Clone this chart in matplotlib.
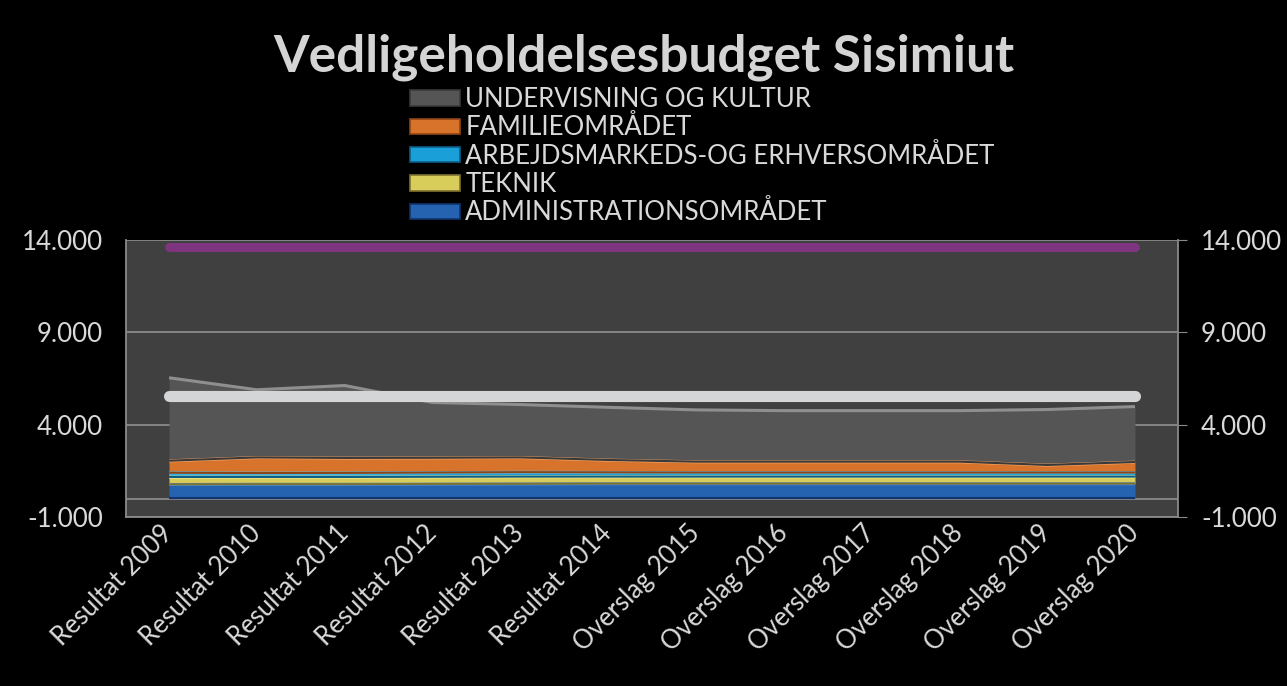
import numpy as np
import matplotlib
matplotlib.use("Agg")
import matplotlib.pyplot as plt
from matplotlib.patches import Patch

plt.rcParams['font.family'] = ['Lato', 'DejaVu Sans']

# categories and series
categories = ["Resultat 2009", "Resultat 2010", "Resultat 2011", "Resultat 2012",
              "Resultat 2013", "Resultat 2014", "Overslag 2015", "Overslag 2016",
              "Overslag 2017", "Overslag 2018", "Overslag 2019", "Overslag 2020"]

administration = [760, 770, 770, 780, 790, 800, 800, 800, 800, 800, 800, 800]
teknik = [400, 390, 390, 390, 390, 380, 380, 380, 380, 380, 380, 380]
arbejdsmarked = [230, 210, 220, 230, 240, 230, 220, 220, 220, 220, 220, 220]
familie = [650, 850, 810, 800, 800, 670, 590, 590, 590, 590, 410, 570]
undervisning = [4500, 3670, 3930, 3000, 2870, 2860, 2810, 2770, 2770, 2770, 3010, 3010]

budget_total = [13640] * 12
budget_line = [5530] * 12

series = [
    ("ADMINISTRATIONSOMRÅDET", administration, "#2563b0", "#4a8ee0", "#103470"),
    ("TEKNIK", teknik, "#d8cc5a", "#f6ee90", "#7d7330"),
    ("ARBEJDSMARKEDS-OG ERHVERSOMRÅDET", arbejdsmarked, "#1a9fd8", "#4cc6f5", "#0d5f88"),
    ("FAMILIEOMRÅDET", familie, "#d8732c", "#f7a565", "#8f4516"),
    ("UNDERVISNING OG KULTUR", undervisning, "#555555", "#8f8f8f", "#3a3a3a"),
]

text_col = "#d9d9d9"
grid_col = "#8a8a8a"

fig = plt.figure(figsize=(12.87, 6.86), dpi=100, facecolor="black")
ax = fig.add_axes([126 / 1287, 1 - 517 / 686, (1178 - 126) / 1287, (517 - 240) / 686])
ax.set_facecolor("#404040")

x = np.arange(len(categories))
base = np.zeros(len(categories))
for name, vals, c, hi, lo in series:
    top = base + np.array(vals)
    ax.fill_between(x, base, top, color=c, lw=0, zorder=3)
    ax.plot(x, top, color=hi, lw=2.2, zorder=4, solid_capstyle="butt")
    ax.plot(x, base + 8, color=lo, lw=1.5, zorder=4, solid_capstyle="butt")
    base = top

ax.plot(x, budget_line, color="#d4d5d7", lw=8, solid_capstyle="round", zorder=6)
ax.plot(x, budget_total, color="#7e347f", lw=6.5, solid_capstyle="round", zorder=6)

ax.set_xlim(-0.49, 11.49)
ax.set_ylim(-1000, 14000)
yt = [-1000, 4000, 9000, 14000]
ax.set_yticks(yt)
ax.set_yticklabels([f"{v:,}".replace(",", ".") for v in yt])
ax.grid(axis="y", color=grid_col, lw=1.3, zorder=1)
ax.axhline(0, color=grid_col, lw=1.3, zorder=1)
for s in ax.spines.values():
    s.set_color(grid_col)
    s.set_linewidth(1.3)
ax.spines["top"].set_visible(False)

ax.set_xticks(x)
ax.set_xticklabels(categories, rotation=45, ha="right", va="center",
                   rotation_mode="anchor", color=text_col, fontsize=18.5)
ax.tick_params(axis="x", length=0, pad=9)
ax.tick_params(axis="y", which="both", left=False, right=True, labelleft=True,
               labelright=True, length=6.5, color=grid_col,
               labelcolor=text_col, labelsize=18.6)
for t in ax.yaxis.get_major_ticks():
    t.tick1line.set_visible(False)
    t.set_pad(10)

fig.text(0.5, 1 - 57 / 686, "Vedligeholdelsesbudget Sisimiut", ha="center", va="center",
         fontsize=37, fontweight="bold", color="#d4d4d4")

handles = [Patch(facecolor=c, edgecolor=lo, lw=1.2, label=name)
           for name, vals, c, hi, lo in series[::-1]]
fig.legend(handles=handles, loc="upper left", bbox_to_anchor=(410 / 1287, 1 - 87 / 686),
           frameon=False, fontsize=18.5, labelcolor=text_col, handlelength=1.95,
           handleheight=0.55, handletextpad=0.2, labelspacing=0.13, borderpad=0,
           borderaxespad=0)

fig.savefig("out.png", dpi=100, facecolor="black")
